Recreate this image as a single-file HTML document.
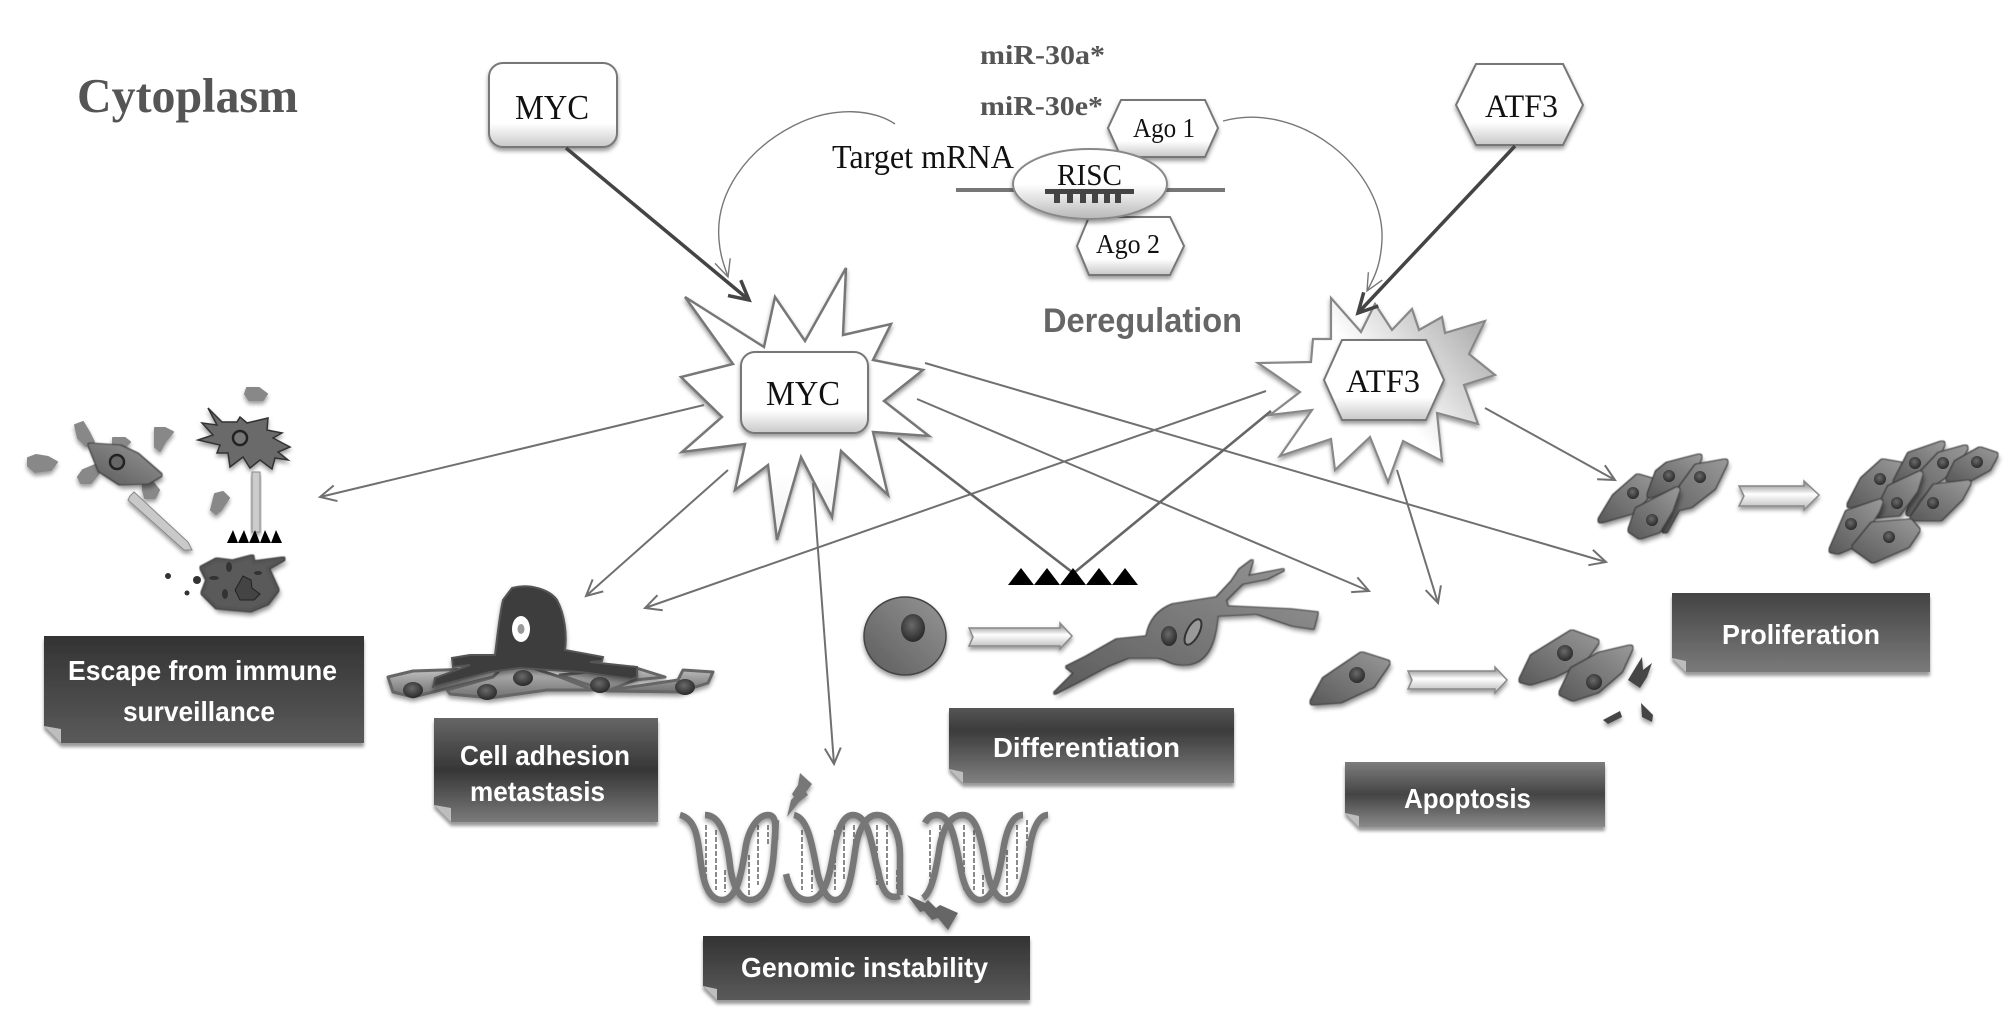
<!DOCTYPE html>
<html lang="en"><head><meta charset="utf-8"><title>Cytoplasm diagram</title>
<style>html,body{margin:0;padding:0;background:#fff}svg{display:block;filter:blur(.35px)}
.s{font-family:"Liberation Serif",serif}
.b{font-family:"Liberation Sans",sans-serif;font-weight:bold;fill:#fff;font-size:28px}
.l{fill:none;stroke:#707070;stroke-width:2;marker-end:url(#ah)}
.c{stroke:url(#cell);stroke-width:5;stroke-linejoin:round;fill:url(#cell);filter:url(#cf)}
.n{stroke:url(#cell);stroke-width:3;stroke-linejoin:round;fill:url(#cell);filter:url(#cf)}
.dna{fill:none;stroke:#777;stroke-width:6.5;filter:url(#sh)}
.r{stroke:#8a8a8a;stroke-width:2;stroke-dasharray:5 2}
.fold{fill:#bdbdbd}
</style></head><body>
<svg xmlns="http://www.w3.org/2000/svg" width="2008" height="1030" viewBox="0 0 2008 1030">
<defs>
<filter id="sh" x="-20%" y="-20%" width="140%" height="150%"><feDropShadow dx="0" dy="3" stdDeviation="2" flood-color="#000" flood-opacity=".4"/></filter>
<filter id="bsh" x="-5%" y="-5%" width="110%" height="120%"><feDropShadow dx="0" dy="4" stdDeviation="1.5" flood-color="#000" flood-opacity=".4"/></filter>
<filter id="cf" x="-20%" y="-20%" width="140%" height="150%">
<feMorphology in="SourceAlpha" operator="dilate" radius="1" result="d"/>
<feFlood flood-color="#3a3a3a"/><feComposite in2="d" operator="in" result="dk"/>
<feGaussianBlur in="SourceAlpha" stdDeviation="2.5"/><feOffset dx="2" dy="4"/><feComponentTransfer result="s"><feFuncA type="linear" slope=".45"/></feComponentTransfer>
<feMerge result="m"><feMergeNode in="s"/><feMergeNode in="dk"/><feMergeNode in="SourceGraphic"/></feMerge>
<feGaussianBlur in="m" stdDeviation=".5"/>
</filter>
<linearGradient id="box" x1="0" y1="0" x2="0" y2="1"><stop offset=".72" stop-color="#fff"/><stop offset="1" stop-color="#c8c8c8"/></linearGradient>
<linearGradient id="risc" x1="0" y1="0" x2="0" y2="1"><stop offset=".5" stop-color="#fff"/><stop offset="1" stop-color="#b8b8b8"/></linearGradient>
<linearGradient id="star1" x1="0" y1="0" x2="0" y2="1"><stop offset=".75" stop-color="#fff"/><stop offset="1" stop-color="#eee"/></linearGradient>
<linearGradient id="star2" x1=".15" y1=".7" x2=".95" y2=".2"><stop offset=".45" stop-color="#fff"/><stop offset="1" stop-color="#b0b0b0"/></linearGradient>
<linearGradient id="cell" x1="0" y1="1" x2="1" y2="0"><stop offset="0" stop-color="#5c5c5c"/><stop offset=".6" stop-color="#7e7e7e"/><stop offset="1" stop-color="#969696"/></linearGradient>
<linearGradient id="silver" x1="0" y1="0" x2="0" y2="1"><stop offset="0" stop-color="#c4c4c4"/><stop offset=".5" stop-color="#999"/><stop offset="1" stop-color="#707070"/></linearGradient>
<radialGradient id="nuc" cx=".45" cy=".4" r=".6"><stop offset="0" stop-color="#6a6a6a"/><stop offset="1" stop-color="#2a2a2a"/></radialGradient>
<linearGradient id="ba" x1="0" y1="0" x2="0" y2="1"><stop offset="0" stop-color="#777"/><stop offset=".45" stop-color="#fff"/><stop offset="1" stop-color="#b5b5b5"/></linearGradient>
<linearGradient id="g1" x1="0" y1="0" x2="0" y2="1"><stop offset="0" stop-color="#333"/><stop offset="1" stop-color="#5a5a5a"/></linearGradient>
<linearGradient id="g2" x1="0" y1="0" x2="0" y2="1"><stop offset="0" stop-color="#666"/><stop offset=".5" stop-color="#363636"/><stop offset="1" stop-color="#7a7a7a"/></linearGradient>
<linearGradient id="g3" x1="0" y1="0" x2="0" y2="1"><stop offset="0" stop-color="#555"/><stop offset=".3" stop-color="#3b3b3b"/><stop offset="1" stop-color="#808080"/></linearGradient>
<linearGradient id="g4" x1="0" y1="0" x2="0" y2="1"><stop offset="0" stop-color="#7d7d7d"/><stop offset=".5" stop-color="#444"/><stop offset="1" stop-color="#8a8a8a"/></linearGradient>
<linearGradient id="g5" x1="0" y1="0" x2="0" y2="1"><stop offset="0" stop-color="#444"/><stop offset="1" stop-color="#7a7a7a"/></linearGradient>
<marker id="ah" markerUnits="userSpaceOnUse" markerWidth="40" markerHeight="40" viewBox="-20 -20 40 40" refX="0" refY="0" orient="auto" overflow="visible"><path d="M-16-8 0 0-16 8" fill="none" stroke="#707070" stroke-width="2"/></marker>
<marker id="ahc" markerUnits="userSpaceOnUse" markerWidth="40" markerHeight="40" viewBox="-20 -20 40 40" refX="0" refY="0" orient="auto" overflow="visible"><path d="M-17-8 0 0-17 8" fill="none" stroke="#777" stroke-width="1.4"/></marker>
<marker id="aht" markerUnits="userSpaceOnUse" markerWidth="50" markerHeight="50" viewBox="-25 -25 50 50" refX="0" refY="0" orient="auto" overflow="visible"><path d="M-19-10 0 0-19 10" fill="none" stroke="#444" stroke-width="3.5"/></marker>
</defs>

<text class="s" x="77" y="112" font-size="49" font-weight="bold" fill="#555" textLength="221" lengthAdjust="spacingAndGlyphs">Cytoplasm</text>
<text class="s" x="980" y="64" font-size="27" font-weight="bold" fill="#555" textLength="125" lengthAdjust="spacingAndGlyphs">miR-30a*</text>
<text class="s" x="980" y="115" font-size="27" font-weight="bold" fill="#555" textLength="123" lengthAdjust="spacingAndGlyphs">miR-30e*</text>
<text class="s" x="832" y="168" font-size="34" fill="#111" textLength="182" lengthAdjust="spacingAndGlyphs">Target mRNA</text>
<text x="1043" y="332" font-family="Liberation Sans,sans-serif" font-weight="bold" font-size="34" fill="#666" textLength="199" lengthAdjust="spacingAndGlyphs">Deregulation</text>

<!-- stars -->
<polygon points="685,297 764,347 775,297 805,341 846,268 843,335 891,324 873,360 923,370 884,401 929,436 873,432 888,495 841,451 832,517 801,457 777,540 768,465 735,490 745,444 682,452 722,417 681,377 733,364" fill="url(#star1)" stroke="#777" stroke-width="2.5" stroke-linejoin="miter" filter="url(#sh)"/>
<polygon points="1331,298 1361,332 1375,304 1392,330 1412,309 1419,330 1442,317 1445,333 1485,321 1469,354 1495,375 1464,385 1478,424 1437,413 1442,461 1403,441 1388,482 1370,437 1335,470 1331,439 1280,456 1312,410 1270,415 1300,392 1258,363 1311,362 1313,339 1331,339" fill="url(#star2)" stroke="#888" stroke-width="2.2" filter="url(#sh)"/>

<!-- top nodes -->
<rect x="489" y="63" width="128" height="84" rx="14" fill="url(#box)" stroke="#777" stroke-width="2" filter="url(#sh)"/>
<text class="s" x="515" y="119" font-size="35" fill="#111" textLength="74" lengthAdjust="spacingAndGlyphs">MYC</text>
<polygon points="1476,64 1563,64 1583,105 1563,145 1476,145 1456,105" fill="url(#box)" stroke="#777" stroke-width="2" filter="url(#sh)"/>
<text class="s" x="1485" y="117" font-size="33" fill="#111" textLength="73" lengthAdjust="spacingAndGlyphs">ATF3</text>

<!-- mRNA / RISC -->
<rect x="956" y="188" width="269" height="4" fill="#777"/>
<polygon points="1121,100 1205,100 1218,128 1205,157 1121,157 1108,128" fill="url(#box)" stroke="#777" stroke-width="2" filter="url(#sh)"/>
<text class="s" x="1133" y="137" font-size="27" fill="#111" textLength="62" lengthAdjust="spacingAndGlyphs">Ago 1</text>
<polygon points="1089,217 1170,217 1184,246 1170,275 1089,275 1077,246" fill="url(#box)" stroke="#777" stroke-width="2" filter="url(#sh)"/>
<text class="s" x="1096" y="253" font-size="27" fill="#111" textLength="64" lengthAdjust="spacingAndGlyphs">Ago 2</text>
<ellipse cx="1090" cy="184" rx="77" ry="35" fill="url(#risc)" stroke="#888" stroke-width="2" filter="url(#sh)"/>
<text class="s" x="1057" y="185" font-size="31" fill="#111" textLength="65" lengthAdjust="spacingAndGlyphs">RISC</text>
<rect x="1045" y="189" width="89" height="5" fill="#444"/>
<g fill="#444"><rect x="1054" y="194" width="6" height="9"/><rect x="1067" y="194" width="6" height="9"/><rect x="1080" y="194" width="6" height="9"/><rect x="1092" y="194" width="6" height="9"/><rect x="1104" y="194" width="6" height="9"/><rect x="1115" y="194" width="6" height="9"/></g>

<!-- curves -->
<path d="M895 124C875 110 835 105 795 125C745 150 715 195 719 240C720 255 724 265 728 277" fill="none" stroke="#777" stroke-width="1.4" marker-end="url(#ahc)"/>
<path d="M1223 121C1300 100 1385 170 1382 240C1381 262 1376 275 1367 291" fill="none" stroke="#777" stroke-width="1.4" marker-end="url(#ahc)"/>
<!-- thick -->
<line x1="566" y1="148" x2="749" y2="300" stroke="#444" stroke-width="3.5" marker-end="url(#aht)"/>
<line x1="1515" y1="146" x2="1358" y2="313" stroke="#444" stroke-width="3.5" marker-end="url(#aht)"/>

<!-- inner nodes -->
<rect x="741" y="352" width="127" height="81" rx="14" fill="url(#box)" stroke="#777" stroke-width="2" filter="url(#sh)"/>
<text class="s" x="766" y="405" font-size="35" fill="#111" textLength="74" lengthAdjust="spacingAndGlyphs">MYC</text>
<polygon points="1342,340 1426,340 1444,380 1426,420 1342,420 1324,380" fill="url(#box)" stroke="#777" stroke-width="2" filter="url(#sh)"/>
<text class="s" x="1346" y="392" font-size="33" fill="#111" textLength="74" lengthAdjust="spacingAndGlyphs">ATF3</text>

<!-- connectors -->
<line class="l" x1="704" y1="405" x2="320" y2="497"/>
<line class="l" x1="728" y1="470" x2="586" y2="596"/>
<line class="l" x1="1266" y1="391" x2="645" y2="608"/>
<line class="l" x1="813" y1="483" x2="834" y2="764"/>
<line class="l" x1="917" y1="399" x2="1369" y2="591"/>
<line class="l" x1="925" y1="363" x2="1606" y2="562"/>
<line class="l" x1="1397" y1="470" x2="1438" y2="603"/>
<line class="l" x1="1485" y1="408" x2="1615" y2="480"/>
<line x1="898" y1="438" x2="1072" y2="572" stroke="#666" stroke-width="2.6"/>
<line x1="1271" y1="411" x2="1075" y2="572" stroke="#666" stroke-width="2.6"/>
<g fill="#000"><polygon points="1008,585 1021,568 1034,585"/><polygon points="1034,585 1047,568 1060,585"/><polygon points="1060,585 1073,568 1086,585"/><polygon points="1086,585 1099,568 1112,585"/><polygon points="1112,585 1125,568 1138,585"/></g>

<!-- escape cells -->
<g fill="#888" stroke="#888" stroke-width="2" stroke-linejoin="round" filter="url(#sh)">
<path d="M28 458l8-3 12 2 9 5-6 8-16 2-7-6z"/><path d="M75 425l8-3 6 10 5 10-8 4-8-8z"/><path d="M155 428l10 0 8 4-8 10-5 9-5-4z"/><path d="M113 438l12 0 5 4-6 6-4 12-6-6-1-10z"/><path d="M83 470l12-5 4 8-8 10-10 0-3-6z"/><path d="M143 480l8 0 8 10-4 8-10 0-2-8z"/><path d="M247 388l12 0 8 6-4 6-14 0-4-6z"/><path d="M215 494l8-2 6 6-8 12-5 4-5-4z"/>
</g>
<polygon class="n" points="90,445 120,447 137,455 160,475 148,482 120,483 100,470"/>
<circle cx="117" cy="462" r="7" fill="#666" stroke="#222" stroke-width="2.5"/>
<polygon points="208,408 222,422 237,422 240,417 247,423 268,418 267,430 282,433 273,438 290,447 278,452 288,460 275,458 272,469 260,460 250,468 243,457 230,467 228,453 217,453 220,445 198,440 213,435 202,423 217,425" fill="#6a6a6a" stroke="#333" stroke-width="1.5" filter="url(#sh)"/>
<circle cx="240" cy="438" r="7" fill="#777" stroke="#222" stroke-width="2.5"/>
<polygon class="n" points="202,568 217,560 233,562 252,557 253,563 283,559 267,568 277,590 267,603 250,610 217,607 203,593 208,580" style="fill:#5a5a5a;stroke:#555"/>
<g fill="#333"><ellipse cx="229" cy="567" rx="3" ry="5"/><ellipse cx="214" cy="578" rx="5" ry="2"/><ellipse cx="225" cy="594" rx="3" ry="5"/><ellipse cx="258" cy="573" rx="4" ry="2"/><circle cx="168" cy="576" r="3"/><circle cx="197" cy="580" r="4"/><circle cx="187" cy="593" r="2.5"/></g>
<path d="M235 590l8-14 8 4 1 8 8 6-6 6-14 0z" fill="#444" stroke="#222"/>
<polygon points="130,496 134,492 188,542 192,550 184,550 128,500" fill="#c9c9c9" stroke="#888" filter="url(#sh)"/>
<rect x="252" y="472" width="8" height="60" fill="#ccc" stroke="#888" filter="url(#sh)"/>
<g fill="#000"><polygon points="227,543 233,530 238,543"/><polygon points="238,543 244,530 249,543"/><polygon points="249,543 255,530 260,543"/><polygon points="260,543 265,530 271,543"/><polygon points="271,543 276,530 282,543"/></g>

<!-- adhesion -->
<g stroke="#666" stroke-width="3" stroke-linejoin="round" filter="url(#sh)" fill="url(#silver)">
<polygon points="388,677 413,671 503,668 493,677 453,687 413,697 393,692"/>
<polygon points="447,690 493,677 503,667 523,665 560,677 593,690 547,690 490,698 450,694"/>
<polygon points="560,675 633,667 665,677 635,680 610,690 678,680 683,670 713,672 708,683 680,692 607,691 583,683"/>
</g>
<path d="M495 655C498 630 500 612 503 600L512 588C530 583 550 590 557 600C565 615 567 635 565 650L603 657 602 661 590 662 637 667 637 677 632 679 580 672 520 668 490 672 433 687 435 678 470 665 453 667 452 658 470 655z" fill="#3e3e3e" stroke="#555" stroke-width="2" filter="url(#sh)"/>
<ellipse cx="521" cy="629" rx="9" ry="13" fill="#fff"/><ellipse cx="521" cy="629" rx="3.5" ry="5" fill="#999"/>
<g fill="url(#nuc)"><ellipse cx="413" cy="690" rx="10" ry="8"/><ellipse cx="487" cy="692" rx="10" ry="8"/><ellipse cx="523" cy="678" rx="10" ry="8"/><ellipse cx="600" cy="685" rx="10" ry="8"/><ellipse cx="685" cy="687" rx="10" ry="8"/></g>

<!-- DNA -->
<path class="r" d="M706 825V880M716 830V890M725 870V892M749 855V895M758 825V885M768 825V845M802 830V890M812 870V892M835 830V890M844 825V880M854 825V845M877 825V885M887 825V885M897 870V890M930 830V890M940 825V850M964 825V890M974 830V890M983 875V895M1007 850V895M1017 825V880M1027 820V850" fill="none"/>
<g class="dna">
<path d="M680 815C700 820 698 850 702 870C706 895 715 900 722 900C738 900 742 870 746 845C750 825 760 815 768 815C776 815 776 825 775 840"/>
<path d="M705 815C722 815 727 840 730 865C733 890 742 900 750 900C765 900 772 880 774 850L776 820"/>
<path d="M786 874C790 892 798 900 808 900C825 900 830 875 834 850C838 825 845 815 853 815C870 815 872 850 878 870C882 892 888 900 900 896"/>
<path d="M794 815C808 818 812 845 816 865C820 890 828 900 835 900C850 900 852 870 856 845C860 825 868 815 877 815C892 815 900 835 900 855L900 895"/>
<path d="M925 823C928 817 932 815 937 815C952 815 956 845 960 865C964 890 972 900 980 900C995 900 1000 870 1004 845C1008 825 1014 815 1023 815"/>
<path d="M923 898C932 892 936 870 940 845C944 825 952 815 963 815C978 815 982 845 986 865C990 890 998 900 1006 900C1022 900 1026 870 1030 845C1034 825 1040 815 1048 815"/>
</g>
<polygon points="800,773 812,784 806,792 808,795 799,802 787,817 791,800 794,797 792,794 798,785" fill="#777" filter="url(#sh)"/>
<polygon points="907,895 925,903 928,900 936,908 940,905 958,913 948,930 938,918 932,920 924,911 920,912" fill="#666" filter="url(#sh)"/>

<!-- differentiation -->
<ellipse cx="905" cy="636" rx="41" ry="39" fill="url(#cell)" stroke="#444" stroke-width="1.5" filter="url(#sh)"/>
<ellipse cx="913" cy="628" rx="12" ry="14" fill="url(#nuc)"/>
<polygon points="969,628 1060,628 1060,623 1072,636 1060,649 1060,646 969,646 973,637" fill="url(#ba)" stroke="#888" stroke-width="1.5" filter="url(#sh)"/>
<path class="n" style="stroke-width:1.5" d="M1055 693L1075 673 1067 667 1087 657 1117 640 1147 637C1150 620 1160 610 1173 605L1217 598 1232 582 1240 570 1252 561 1247 577 1283 570 1267 578 1242 583 1225 600 1227 607 1290 610 1317 613 1313 628 1293 625 1257 613 1217 615C1215 640 1208 664 1183 664C1170 664 1165 657 1157 657L1128 657 1108 665 1080 680Z"/>
<ellipse cx="1169" cy="636" rx="8" ry="10" fill="url(#nuc)"/>
<ellipse cx="1193" cy="632" rx="6" ry="14" transform="rotate(28 1193 632)" fill="#999" stroke="#333" stroke-width="2"/>

<!-- apoptosis -->
<polygon class="c" points="1313,702 1325,680 1362,655 1387,663 1372,685 1340,700"/>
<circle cx="1357" cy="675" r="8" fill="url(#nuc)"/>
<polygon points="1408,671 1495,671 1495,667 1507,680 1495,693 1495,689 1408,689 1412,680" fill="url(#ba)" stroke="#888" stroke-width="1.5" filter="url(#sh)"/>
<polygon class="c" points="1522,680 1533,657 1572,633 1596,642 1583,660 1553,675 1530,682"/>
<circle cx="1565" cy="653" r="8" fill="url(#nuc)"/>
<polygon class="c" points="1562,693 1573,670 1600,655 1630,648 1620,670 1597,690 1573,698"/>
<circle cx="1594" cy="682" r="8" fill="url(#nuc)"/>
<g fill="#444" filter="url(#sh)"><polygon points="1628,680 1642,657 1643,670 1652,663 1647,677 1640,688"/><polygon points="1603,720 1620,711 1622,717 1608,724"/><polygon points="1641,703 1653,715 1652,722 1642,717"/></g>

<!-- proliferation -->
<polygon class="c" points="1601,520 1615,497 1638,477 1655,482 1648,493 1635,510"/><circle cx="1633" cy="493" r="6" fill="url(#nuc)"/>
<polygon class="c" points="1650,495 1658,473 1668,465 1699,457 1693,472 1677,485"/><circle cx="1669" cy="476" r="6" fill="url(#nuc)"/>
<polygon class="c" points="1665,530 1678,493 1697,467 1725,462 1713,487 1690,505 1677,508"/><circle cx="1700" cy="477" r="6" fill="url(#nuc)"/>
<polygon class="c" points="1631,530 1638,510 1677,490 1670,510 1658,530 1640,536"/><circle cx="1652" cy="520" r="6" fill="url(#nuc)"/>
<polygon points="1739,486 1804,486 1804,481 1819,495 1804,510 1804,506 1739,506 1744,496" fill="url(#ba)" stroke="#888" stroke-width="1.5" filter="url(#sh)"/>
<polygon class="c" points="1850,505 1863,480 1883,462 1900,465 1892,483 1880,498"/><circle cx="1880" cy="479" r="6" fill="url(#nuc)"/>
<polygon class="c" points="1896,482 1910,455 1942,444 1935,460 1915,475"/><circle cx="1915" cy="463" r="6" fill="url(#nuc)"/>
<polygon class="c" points="1909,513 1923,473 1940,455 1965,448 1955,467 1933,483 1918,498"/><circle cx="1943" cy="463" r="6" fill="url(#nuc)"/>
<polygon class="c" points="1877,515 1890,488 1920,474 1915,490 1898,513"/><circle cx="1897" cy="503" r="6" fill="url(#nuc)"/>
<polygon class="c" points="1949,479 1957,463 1980,450 1995,455 1988,468 1970,478"/><circle cx="1977" cy="462" r="6" fill="url(#nuc)"/>
<polygon class="c" points="1913,518 1935,487 1968,483 1960,498 1940,518"/><circle cx="1933" cy="503" r="6" fill="url(#nuc)"/>
<polygon class="c" points="1832,550 1848,513 1880,502 1877,510 1857,543 1838,551"/><circle cx="1851" cy="524" r="6" fill="url(#nuc)"/>
<polygon class="c" points="1855,547 1873,525 1910,522 1917,530 1907,545 1873,560"/><circle cx="1889" cy="537" r="6" fill="url(#nuc)"/>

<!-- banners -->
<path d="M44 636H364V743H61L44 726Z" fill="url(#g1)" filter="url(#bsh)"/><path class="fold" d="M44 726L61 729 61 743Z"/>
<text class="b" x="68" y="680" textLength="269" lengthAdjust="spacingAndGlyphs">Escape from immune</text>
<text class="b" x="123" y="721" textLength="152" lengthAdjust="spacingAndGlyphs">surveillance</text>
<path d="M434 718H658V822H451L434 805Z" fill="url(#g2)" filter="url(#bsh)"/><path class="fold" d="M434 805L451 808 451 822Z"/>
<text class="b" x="460" y="765" textLength="170" lengthAdjust="spacingAndGlyphs">Cell adhesion</text>
<text class="b" x="470" y="801" textLength="135" lengthAdjust="spacingAndGlyphs">metastasis</text>
<path d="M703 936H1030V1000H717L703 986Z" fill="url(#g1)" filter="url(#bsh)"/><path class="fold" d="M703 986L717 989 717 1000Z"/>
<text class="b" x="741" y="977" textLength="247" lengthAdjust="spacingAndGlyphs">Genomic instability</text>
<path d="M949 708H1234V783H963L949 769Z" fill="url(#g3)" filter="url(#bsh)"/><path class="fold" d="M949 769L963 772 963 783Z"/>
<text class="b" x="993" y="757" textLength="187" lengthAdjust="spacingAndGlyphs">Differentiation</text>
<path d="M1345 762H1605V827H1359L1345 813Z" fill="url(#g4)" filter="url(#bsh)"/><path class="fold" d="M1345 813L1359 816 1359 827Z"/>
<text class="b" x="1404" y="808" textLength="127" lengthAdjust="spacingAndGlyphs">Apoptosis</text>
<path d="M1672 593H1930V672H1686L1672 658Z" fill="url(#g5)" filter="url(#bsh)"/><path class="fold" d="M1672 658L1686 661 1686 672Z"/>
<text class="b" x="1722" y="644" textLength="158" lengthAdjust="spacingAndGlyphs">Proliferation</text>
</svg>
</body></html>
